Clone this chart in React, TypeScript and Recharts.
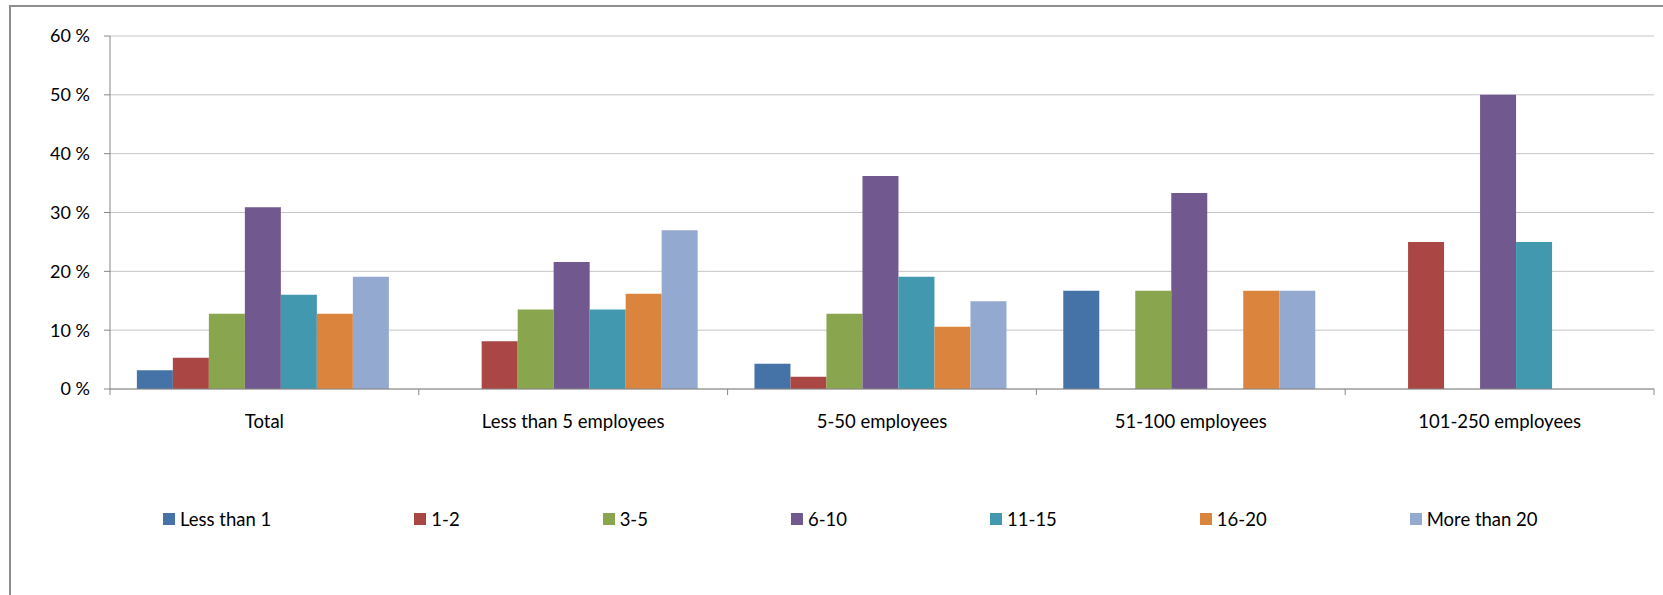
import { BarChart, Bar, XAxis, YAxis, CartesianGrid, Legend } from "recharts";

// company size groups
const categories = [
  "Total",
  "Less than 5 employees",
  "5-50 employees",
  "51-100 employees",
  "101-250 employees",
];

// share of answers per bucket, in %
const lessThan1 = [3.2, 0, 4.3, 16.7, 0];
const oneToTwo = [5.3, 8.1, 2.1, 0, 25];
const threeToFive = [12.8, 13.5, 12.8, 16.7, 0];
const sixToTen = [30.9, 21.6, 36.2, 33.3, 50];
const elevenToFifteen = [16.0, 13.5, 19.1, 0, 25];
const sixteenToTwenty = [12.8, 16.2, 10.6, 16.7, 0];
const moreThan20 = [19.1, 27.0, 14.9, 16.7, 0];

const seriesNames = ["Less than 1", "1-2", "3-5", "6-10", "11-15", "16-20", "More than 20"];
const seriesValues = [lessThan1, oneToTwo, threeToFive, sixToTen, elevenToFifteen, sixteenToTwenty, moreThan20];
const colors = ["#4572A7", "#AA4643", "#89A54E", "#71588F", "#4198AF", "#DB843D", "#93A9CF"];

const yTicks = [0, 10, 20, 30, 40, 50, 60];

const data = categories.map((name, i) => {
  const row: Record<string, string | number> = { name };
  seriesNames.forEach((s, j) => {
    row[s] = seriesValues[j][i];
  });
  return row;
});

const FONT = "Lato, 'Liberation Sans', sans-serif";
const AXIS_GRAY = "#868686";

// category label plus the small tick marks between categories
const CategoryTick = (props: any) => {
  const { x, y, payload, index, visibleTicksCount } = props;
  const half = payload.offset ?? 0;
  const axisY = y - 6;
  return (
    <g>
      <line x1={x - half} x2={x - half} y1={axisY} y2={axisY + 6} stroke={AXIS_GRAY} />
      {index === visibleTicksCount - 1 && (
        <line x1={x + half} x2={x + half} y1={axisY} y2={axisY + 6} stroke={AXIS_GRAY} />
      )}
      <text x={x} y={axisY + 39} textAnchor="middle" fill="#000" fontSize={18.5} fontFamily={FONT}>
        {payload.value}
      </text>
    </g>
  );
};

// legend kept in series order (recharts sorts its payload by name)
const LegendContent = () => (
  <div
    style={{
      display: "flex",
      alignItems: "center",
      height: 24,
      paddingLeft: 163,
      gap: 143,
      fontFamily: FONT,
      fontSize: 18.5,
      color: "#000",
    }}
  >
    {seriesNames.map((s, j) => (
      <div key={s} style={{ display: "flex", alignItems: "center", whiteSpace: "nowrap" }}>
        <span style={{ width: 12, height: 12, background: colors[j], marginRight: 5, display: "inline-block" }} />
        <span>{s}</span>
      </div>
    ))}
  </div>
);

export default function App() {
  return (
    <div style={{ position: "absolute", left: 0, top: 0, width: 1663, height: 595, overflow: "hidden", background: "#fff" }}>
      <div
        style={{
          position: "absolute",
          left: 9,
          top: 5,
          width: 1720,
          height: 700,
          border: "2px solid #8e8e8e",
        }}
      />
      <div style={{ position: "absolute", left: 0, top: 0 }}>
        <BarChart
          width={1663}
          height={595}
          data={data}
          margin={{ top: 36, right: 9, left: 0, bottom: 64 }}
          barCategoryGap="8.7%"
          barGap={0}
        >
          <CartesianGrid vertical={false} stroke="#c4c4c4" />
          <XAxis
            dataKey="name"
            height={118}
            tickLine={false}
            tickSize={6}
            tickMargin={0}
            stroke={AXIS_GRAY}
            tick={<CategoryTick />}
            interval={0}
          />
          <YAxis
            width={110}
            domain={[0, 60]}
            ticks={yTicks}
            tickFormatter={(v: number) => `${v} %`}
            stroke={AXIS_GRAY}
            tickSize={6}
            tickMargin={14}
            tick={{ fill: "#000", fontSize: 18, fontFamily: FONT }}
            allowDataOverflow
          />
          <Legend verticalAlign="bottom" content={<LegendContent />} />
          {seriesNames.map((s, j) => (
            <Bar key={s} dataKey={s} fill={colors[j]} isAnimationActive={false} />
          ))}
        </BarChart>
      </div>
    </div>
  );
}
